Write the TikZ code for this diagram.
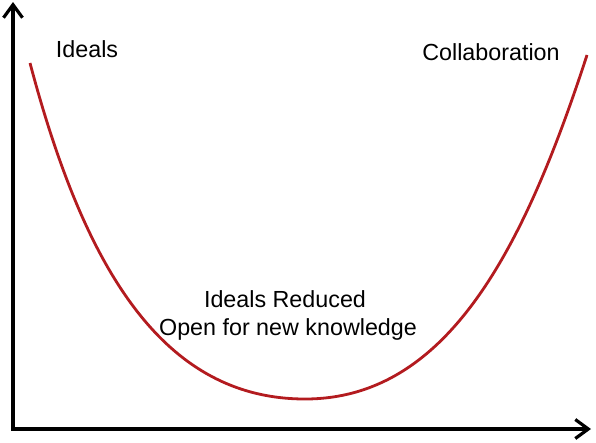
\documentclass[tikz,border=0pt]{standalone}
\usepackage{fontspec}
\setmainfont{Liberation Sans}
\usetikzlibrary{arrows.meta}
\begin{document}
\begin{tikzpicture}[x=1pt,y=-1pt,
  axis/.style={line width=3.6pt,-{Straight Barb[length=13pt,width=19pt,line width=3.2pt]}},
  curve/.style={draw=curvered,line width=2.8pt},
  lbl/.style={anchor=base,inner sep=0pt,font=\fontsize{23.3}{28}\selectfont}]
\definecolor{curvered}{HTML}{B31B1F}
\useasboundingbox (0,0) rectangle (596,442);
% axes
\coordinate (origin) at (13,429);
\coordinate (ytop) at (13,2);
\coordinate (xend) at (591,429);
\draw[axis] ([yshift=1.8pt]origin) -- (ytop);
\draw[axis] ([xshift=-1.8pt]origin) -- (xend);
% U-shaped curve
\coordinate (cstart) at (30,63);
\coordinate (cmin) at (305,399);
\coordinate (cend) at (587,55);
\draw[curve] (cstart) .. controls (83,263) and (160,399) .. (cmin)
             .. controls (445,399) and (522,255) .. (cend);
% labels
\node[lbl] (ideals) at (87,57) {Ideals};
\node[lbl] (collab) at (491,60) {Collaboration};
\node[lbl] (reduced) at (285,307) {Ideals Reduced};
\node[lbl] (open) at (288,335) {Open for new knowledge};
\end{tikzpicture}
\end{document}
